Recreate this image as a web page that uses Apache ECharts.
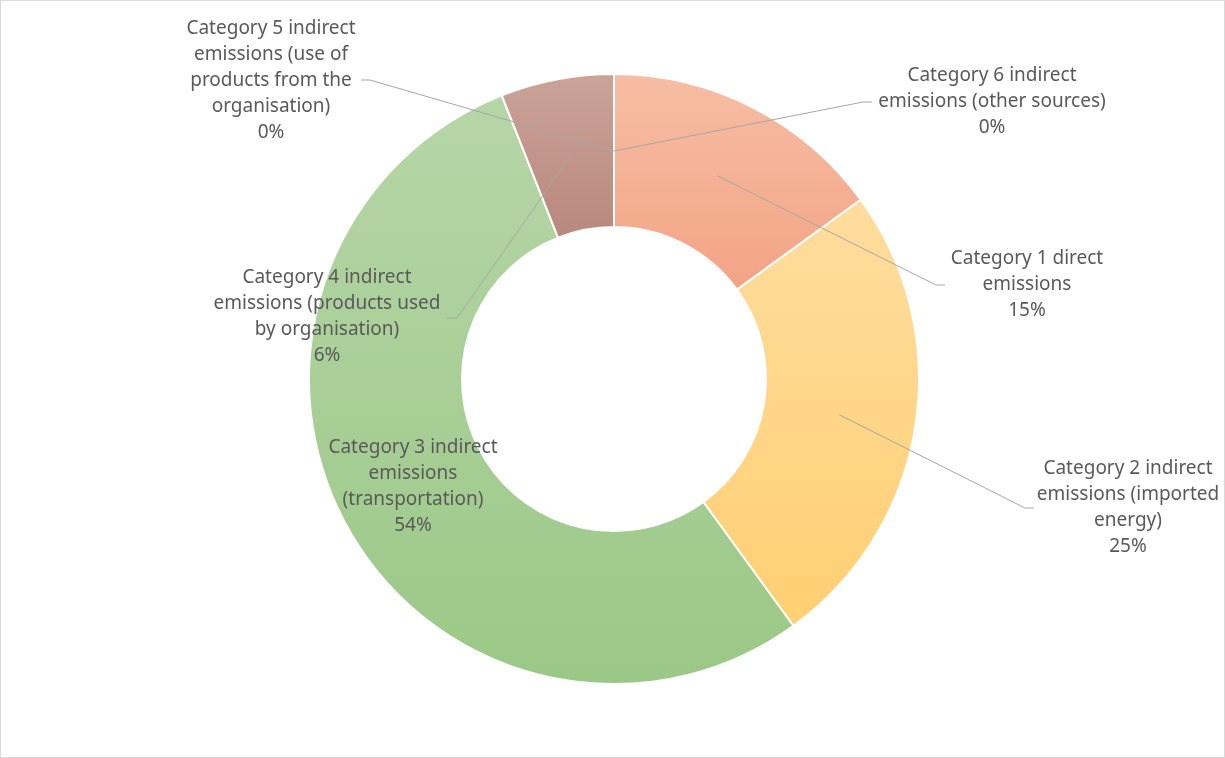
<!DOCTYPE html>
<html>
<head>
<meta charset="utf-8">
<script src="https://cdn.jsdelivr.net/npm/echarts@6/dist/echarts.min.js"></script>
<style>
  html, body { margin: 0; padding: 0; background: #fff; }
  #chart { width: 1223px; height: 756px; border: 1px solid #d9d9d9; }
</style>
</head>
<body>
<div id="chart"></div>
<script>
// data
var categories = [
    'Category 1 direct emissions',
    'Category 2 indirect emissions (imported energy)',
    'Category 3 indirect emissions (transportation)',
    'Category 4 indirect emissions (products used by organisation)',
    'Category 5 indirect emissions (use of products from the organisation)',
    'Category 6 indirect emissions (other sources)'
];
var values = [15, 25, 54, 6, 0, 0];
// wrapped label text as shown
var labelText = [
    'Category 1 direct\nemissions',
    'Category 2 indirect\nemissions (imported\nenergy)',
    'Category 3 indirect\nemissions\n(transportation)',
    'Category 4 indirect\nemissions (products used\nby organisation)',
    'Category 5 indirect\nemissions (use of\nproducts from the\norganisation)',
    'Category 6 indirect\nemissions (other sources)'
];

var colorTop = ['#f6bea4', '#ffdd9f', '#b6d6a8', '#cba399', '#cba399', '#cba399'];
var colorBot = ['#f3a385', '#ffcf72', '#9bc886', '#b8887b', '#b8887b', '#b8887b'];

// label placement (text centre, line end points)
var labelPos = [
    [1026, 284], [1127, 507], [412, 486], [326, 316], [270, 80], [991, 101]
];
var lineEnd = [
    [[935, 284], [944, 284]],
    [[1024, 507], [1033, 507]],
    null,
    [[456, 317], [446, 317]],
    [[369, 79], [360, 79]],
    [[862, 101], [871, 101]]
];

var chartDom = document.getElementById('chart');
var myChart = echarts.init(chartDom);
var option;

var ringData = categories.map(function (name, i) {
    return {
        name: name,
        value: values[i],
        itemStyle: {
            color: new echarts.graphic.LinearGradient(0, 0, 0, 1, [
                { offset: 0, color: colorTop[i] },
                { offset: 1, color: colorBot[i] }
            ])
        }
    };
});

var labelData = categories.map(function (name, i) {
    return {
        name: name,
        value: values[i],
        labelLine: { show: lineEnd[i] !== null }
    };
});

option = {
    animation: false,
    series: [
        {
            name: 'ring',
            type: 'pie',
            center: [613, 378],
            radius: [152, 305],
            startAngle: 90,
            clockwise: true,
            silent: true,
            itemStyle: { borderColor: '#fff', borderWidth: 2 },
            label: { show: false },
            labelLine: { show: false },
            data: ringData
        },
        {
            name: 'labels',
            type: 'pie',
            center: [613, 378],
            radius: [0, 228],
            startAngle: 90,
            clockwise: true,
            silent: true,
            avoidLabelOverlap: false,
            z: 3,
            itemStyle: { color: 'rgba(0,0,0,0)', borderWidth: 0 },
            label: {
                show: true,
                position: 'outside',
                color: '#595959',
                fontFamily: 'Noto Sans',
                fontSize: 19,
                lineHeight: 26,
                align: 'center',
                formatter: function (p) {
                    return labelText[p.dataIndex] + '\n' + Math.round(p.percent) + '%';
                }
            },
            labelLine: {
                show: true,
                lineStyle: { color: '#a6a6a6', width: 1 }
            },
            labelLayout: function (params) {
                var i = params.dataIndex;
                var out = {
                    x: labelPos[i][0],
                    y: labelPos[i][1],
                    align: 'center',
                    verticalAlign: 'middle'
                };
                if (lineEnd[i] && params.labelLinePoints) {
                    out.labelLinePoints = [
                        params.labelLinePoints[0],
                        lineEnd[i][0],
                        lineEnd[i][1]
                    ];
                }
                return out;
            },
            data: labelData
        }
    ]
};

option && myChart.setOption(option);
</script>
</body>
</html>
